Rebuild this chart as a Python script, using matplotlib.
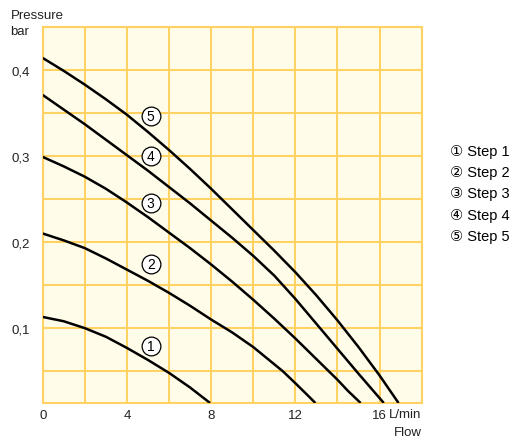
import matplotlib
matplotlib.use("Agg")
import matplotlib.pyplot as plt

# ---- data ----
flow_1 = [0, 1, 2, 3, 4, 5, 6, 7, 7.95]
pres_1 = [0.113, 0.108, 0.100, 0.090, 0.077, 0.063, 0.048, 0.031, 0.013]

flow_2 = [0, 1, 2, 3, 4, 5, 6, 7, 8, 9, 10, 11, 11.4, 12, 12.5, 12.95]
pres_2 = [0.210, 0.202, 0.193, 0.181, 0.168, 0.155, 0.141, 0.126, 0.110, 0.095, 0.078, 0.058, 0.050, 0.036, 0.024, 0.013]

flow_3 = [0, 1, 2, 3, 4, 5, 6, 7, 8, 9, 10, 11, 12, 13, 14, 14.5, 15.1]
pres_3 = [0.299, 0.288, 0.276, 0.262, 0.246, 0.229, 0.211, 0.193, 0.174, 0.154, 0.133, 0.111, 0.088, 0.064, 0.040, 0.027, 0.013]

flow_4 = [0, 1, 2, 3, 4, 5, 6, 7, 8, 9, 10, 11, 12, 13, 14, 15, 15.6, 16.2]
pres_4 = [0.371, 0.354, 0.337, 0.319, 0.301, 0.283, 0.264, 0.245, 0.225, 0.205, 0.184, 0.161, 0.134, 0.105, 0.076, 0.047, 0.030, 0.013]

flow_5 = [0, 1, 2, 3, 4, 5, 6, 7, 8, 9, 10, 11, 12, 13, 14, 15, 16, 16.9]
pres_5 = [0.414, 0.399, 0.383, 0.366, 0.348, 0.328, 0.307, 0.285, 0.262, 0.238, 0.214, 0.190, 0.165, 0.138, 0.109, 0.078, 0.045, 0.013]

label_x = [5.13, 5.13, 5.13, 5.13, 5.13]
label_y = [0.079, 0.175, 0.245, 0.300, 0.347]
label_txt = ["1", "2", "3", "4", "5"]

legend_lines = ["\u2460 Step 1", "\u2461 Step 2", "\u2462 Step 3", "\u2463 Step 4", "\u2464 Step 5"]

x_ticks = [0, 2, 4, 6, 8, 10, 12, 14, 16, 18]
x_ticklabels = ["0", "", "4", "", "8", "", "12", "", "16", ""]
y_ticks = [0.05, 0.10, 0.15, 0.20, 0.25, 0.30, 0.35, 0.40, 0.45]
y_ticklabels = ["", "0,1", "", "0,2", "", "0,3", "", "0,4", ""]

FONT = ["Liberation Sans", "DejaVu Sans", "Noto Sans CJK SC"]
plt.rcParams["font.family"] = FONT

W, H = 512, 439
fig = plt.figure(figsize=(W / 100, H / 100), dpi=100)
ax = fig.add_axes([42.7 / W, 1 - 404 / H, (421.7 - 42.7) / W, (404 - 28) / H])

bg = "#FFFDEA"
gridc = "#FFD263"
ax.set_facecolor(bg)
ax.set_xlim(0, 18)
ax.set_ylim(0.013, 0.45)

ax.set_xticks(x_ticks)
ax.set_xticklabels(x_ticklabels)
ax.set_yticks(y_ticks)
ax.set_yticklabels(y_ticklabels)
ax.tick_params(axis="both", length=0, labelsize=9.5, colors="#222222")
ax.tick_params(axis="x", pad=4)
ax.tick_params(axis="y", pad=9)
ax.grid(True, color=gridc, linewidth=1.5)
ax.set_axisbelow(True)
for s in ax.spines.values():
    s.set_color(gridc)
    s.set_linewidth(1.5)

for fx, py in [(flow_1, pres_1), (flow_2, pres_2), (flow_3, pres_3), (flow_4, pres_4), (flow_5, pres_5)]:
    ax.plot(fx, py, color="black", linewidth=1.8, solid_joinstyle="round",
            solid_capstyle="butt", zorder=3)

ax.plot(label_x, label_y, linestyle="none", marker="o", markersize=13.5,
        markerfacecolor="white", markeredgecolor="black", markeredgewidth=0.9, zorder=4)
for lx, ly, t in zip(label_x, label_y, label_txt):
    ax.text(lx, ly, t, ha="center", va="center", fontsize=10, color="black", zorder=5)

# axis titles
fig.text(11 / W, 1 - 16 / H, "Pressure", ha="left", va="center", fontsize=9.5, color="#222222")
fig.text(10 / W, 1 - 32 / H, "bar", ha="left", va="center", fontsize=9.5, color="#222222")
fig.text(421.5 / W, 1 - 415 / H, "L/min", ha="right", va="center", fontsize=9.5, color="#222222")
fig.text(421.5 / W, 1 - 433 / H, "Flow", ha="right", va="center", fontsize=9.5, color="#222222")

# legend text
leg_y = [151.7, 173.0, 194.3, 215.6, 236.9]
for yy, t in zip(leg_y, legend_lines):
    fig.text(450 / W, 1 - yy / H, t, ha="left", va="center", fontsize=10.5, color="black")

fig.savefig("out.png", dpi=100, facecolor="white")
